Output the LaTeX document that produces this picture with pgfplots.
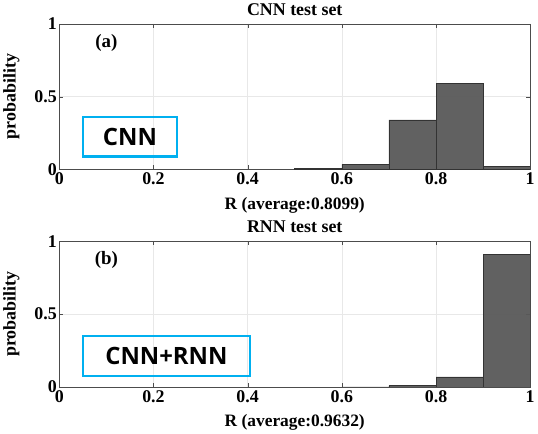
\documentclass[border=0pt]{standalone}
\usepackage{pgfplots}
\pgfplotsset{compat=1.18}
\usepackage{fontspec}
\setmainfont{Liberation Serif}
\newfontfamily\boxfont{Open Sans}
\definecolor{barfill}{RGB}{89,89,89}
\definecolor{boxcyan}{RGB}{0,176,240}
\pgfplotsset{
  histo/.style={
    scale only axis, width=472bp, height=146bp,
    xmin=0, xmax=1, ymin=0, ymax=1,
    xtick={0,0.2,...,1}, ytick={0,0.5,1},
    xticklabels={0,0.2,0.4,0.6,0.8,1},
    yticklabels={0,0.5,1},
    /pgf/number format/assume math mode=true,
    grid=major, major grid style={gray!18, line width=0.5pt},
    axis line style={gray!60!black}, tick style={gray!60!black},
    tick align=inside, major tick length=4bp,
    tick label style={font=\fontsize{18}{19}\selectfont\bfseries},
    yticklabel style={xshift=1bp},
    xlabel style={font=\fontsize{17.5}{18}\selectfont\bfseries, yshift=-5bp},
    ylabel style={font=\fontsize{18}{19}\selectfont\bfseries, yshift=8bp},
    title style={font=\fontsize{18}{19}\selectfont\bfseries, yshift=-1bp},
    ylabel={probability},
  }
}
\begin{document}
\begin{tikzpicture}
\begin{axis}[histo, title={CNN test set}, xlabel={R (average:0.8099)}]
  \addplot[ybar interval, fill=barfill, fill opacity=0.95, draw=black!80, line width=0.6pt]
    coordinates {(0.5,0.006)(0.6,0.035)(0.7,0.34)(0.8,0.59)(0.9,0.02)(1.0,0.02)};
  \node[font=\fontsize{19}{20}\selectfont\bfseries] at (axis cs:0.1,0.87) {(a)};
  \draw[boxcyan, line width=2.4pt] (axis cs:0.05,0.09) rectangle (axis cs:0.25,0.36);
  \node[font=\boxfont\fontsize{24}{26}\selectfont\bfseries] at (axis cs:0.15,0.225) {CNN};
\end{axis}
\begin{axis}[histo, at={(0,-218bp)}, title={RNN test set}, xlabel={R (average:0.9632)}]
  \addplot[ybar interval, fill=barfill, fill opacity=0.95, draw=black!80, line width=0.6pt]
    coordinates {(0.6,0.001)(0.7,0.01)(0.8,0.07)(0.9,0.91)(1.0,0.91)};
  \node[font=\fontsize{19}{20}\selectfont\bfseries] at (axis cs:0.1,0.87) {(b)};
  \draw[boxcyan, line width=2.4pt] (axis cs:0.05,0.075) rectangle (axis cs:0.405,0.35);
  \node[font=\boxfont\fontsize{24}{26}\selectfont\bfseries] at (axis cs:0.2275,0.2125) {CNN+RNN};
\end{axis}
\end{tikzpicture}
\end{document}
